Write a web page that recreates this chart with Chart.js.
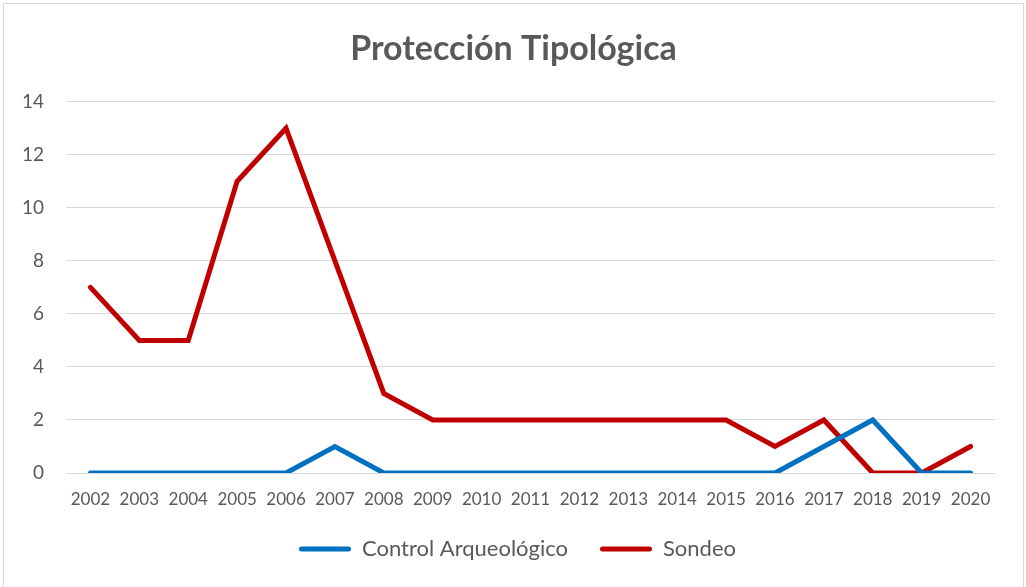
<!DOCTYPE html>
<html>
<head>
<meta charset="utf-8">
<script src="https://cdn.jsdelivr.net/npm/chart.js@4.4.0/dist/chart.umd.min.js"></script>
<style>
  html, body { margin: 0; padding: 0; background: #fff; }
  #wrap { position: relative; width: 1026px; height: 587px; }
  #frame { position: absolute; left: 3px; top: 3px; width: 1021px; height: 600px; border: 1px solid #d9d9d9; box-sizing: border-box; }
  canvas { position: absolute; left: 0; top: 0; }
</style>
</head>
<body>
<div id="wrap">
  <div id="frame"></div>
  <canvas id="c" width="1026" height="587"></canvas>
</div>
<script>
const years = ["2002","2003","2004","2005","2006","2007","2008","2009","2010","2011","2012","2013","2014","2015","2016","2017","2018","2019","2020"];
const controlArqueologico = [0,0,0,0,0,1,0,0,0,0,0,0,0,0,0,1,2,0,0];
const sondeo = [7,5,5,11,13,8,3,2,2,2,2,2,2,2,1,2,0,0,1];
const yTicks = [0,2,4,6,8,10,12,14];
const seriesNames = ["Control Arqueológico", "Sondeo"];
const seriesColors = ["#0070C0", "#C00000"];

const FONT = "Lato, 'Open Sans', sans-serif";

const shiftBlocks = {
  id: 'shiftBlocks',
  afterLayout(chart) {
    if (chart.legend) { chart.legend.left += 20; chart.legend.right += 20; }
    if (chart.titleBlock) { chart.titleBlock.left += 16; chart.titleBlock.right += 16; }
  }
};

new Chart(document.getElementById('c'), {
  type: 'line',
  data: {
    labels: years,
    datasets: [
      { label: seriesNames[0], data: controlArqueologico, borderColor: seriesColors[0], backgroundColor: seriesColors[0], borderWidth: 5, pointRadius: 0, tension: 0, borderCapStyle: 'round', borderJoinStyle: 'miter' },
      { label: seriesNames[1], data: sondeo, borderColor: seriesColors[1], backgroundColor: seriesColors[1], borderWidth: 5, pointRadius: 0, tension: 0, borderCapStyle: 'round', borderJoinStyle: 'miter' }
    ]
  },
  plugins: [shiftBlocks],
  options: {
    responsive: false,
    animation: false,
    layout: { padding: { left: 0, right: 31, top: 19, bottom: 17 } },
    plugins: {
      title: {
        display: true,
        text: 'Protección Tipológica',
        color: '#595959',
        font: { family: FONT, size: 34, weight: 'bold' },
        padding: { top: 10, bottom: 32 }
      },
      legend: {
        position: 'bottom',
        labels: {
          color: '#595959',
          font: { family: FONT, size: 22 },
          boxWidth: 52,
          boxHeight: 5,
          padding: 32,
          useBorderRadius: true,
          borderRadius: 2.5,
          generateLabels(chart) {
            return chart.data.datasets.map((ds, i) => ({
              text: ds.label,
              fillStyle: ds.borderColor,
              strokeStyle: ds.borderColor,
              lineWidth: 0,
              borderRadius: 2.5,
              datasetIndex: i,
              fontColor: '#595959'
            }));
          }
        }
      },
      tooltip: { enabled: false }
    },
    scales: {
      x: {
        offset: true,
        grid: { display: false, drawTicks: false },
        border: { display: true, color: '#d9d9d9', width: 1 },
        ticks: { color: '#595959', font: { family: FONT, size: 17 }, padding: 16, maxRotation: 0, autoSkip: false },
        afterFit(scale) { scale.height = 33; }
      },
      y: {
        min: 0, max: 14,
        afterBuildTicks(scale) { scale.ticks = yTicks.map(v => ({ value: v })); },
        grid: { color: '#d9d9d9', lineWidth: 1, drawTicks: false },
        border: { display: false },
        ticks: { color: '#595959', font: { family: FONT, size: 19 }, padding: 22 },
        afterFit(scale) { scale.width = 66; }
      }
    }
  }
});
</script>
</body>
</html>
